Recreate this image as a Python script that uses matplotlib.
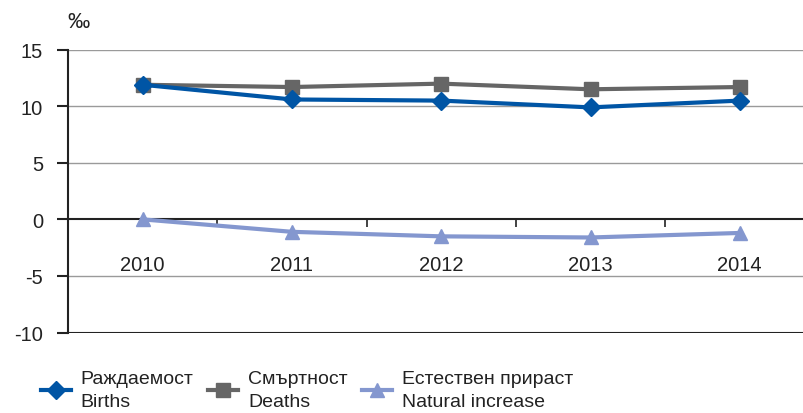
import numpy as np
import matplotlib
matplotlib.use('Agg')
import matplotlib.pyplot as plt

plt.rcParams['font.family'] = ['Liberation Sans', 'DejaVu Sans']

years = ['2010', '2011', '2012', '2013', '2014']
births = [11.9, 10.6, 10.5, 9.9, 10.5]
deaths = [11.9, 11.7, 12.0, 11.5, 11.7]
natural = [0.0, -1.1, -1.5, -1.6, -1.2]
labels = ['Раждаемост\nBirths', 'Смъртност\nDeaths', 'Естествен прираст\nNatural increase']
yticks = [-10, -5, 0, 5, 10, 15]

fig = plt.figure(figsize=(8.04, 4.14), dpi=100)
ax = fig.add_axes([68/804, 1-333.5/414, 1-68/804, (333.5-50.7)/414])
x = np.arange(len(years))

ax.plot(x, births, color='#0055a5', lw=3, marker='D', ms=9, label=labels[0], zorder=4)
ax.plot(x, deaths, color='#666666', lw=3, marker='s', ms=10, label=labels[1], zorder=3)
ax.plot(x, natural, color='#8497cf', lw=3, marker='^', ms=10, label=labels[2], zorder=4)

ax.set_ylim(-10, 15)
ax.set_xlim(-0.5, 4.43)
ax.set_yticks(yticks)
ax.set_yticklabels([str(v) for v in yticks])
for v in yticks:
    if v not in (0, -10):
        ax.axhline(v, color='#9a9a9a', lw=1, zorder=1)
ax.axhline(-10, color='#222222', lw=1.5, zorder=2)

for s in ['top', 'right']:
    ax.spines[s].set_visible(False)
ax.spines['left'].set_color('#222222')
ax.spines['left'].set_linewidth(1.5)
ax.spines['bottom'].set_position(('data', 0))
ax.spines['bottom'].set_color('#222222')
ax.spines['bottom'].set_linewidth(1.5)

ax.set_xticks(x)
ax.set_xticklabels(years)
ax.set_xticks(x[:-1] + 0.5, minor=True)
ax.tick_params(axis='x', which='major', length=0, pad=26, labelsize=14.5, colors='#222222')
ax.tick_params(axis='x', which='minor', length=6, width=1.2, direction='out', color='#222222')
ax.tick_params(axis='y', length=8, width=1.5, pad=10, labelsize=14.5, colors='#222222')

fig.text(67/804, 1-23/414, '‰', fontsize=16, va='center', ha='left', color='#222222')

leg = fig.legend(loc='lower left', bbox_to_anchor=(0.029, -0.035), ncol=3, frameon=False,
                 fontsize=14, handlelength=1.55, handletextpad=0.5, columnspacing=0.75,
                 labelcolor='#222222')
for t in leg.get_texts():
    t.set_linespacing(1.45)

fig.savefig('out.png', dpi=100)
